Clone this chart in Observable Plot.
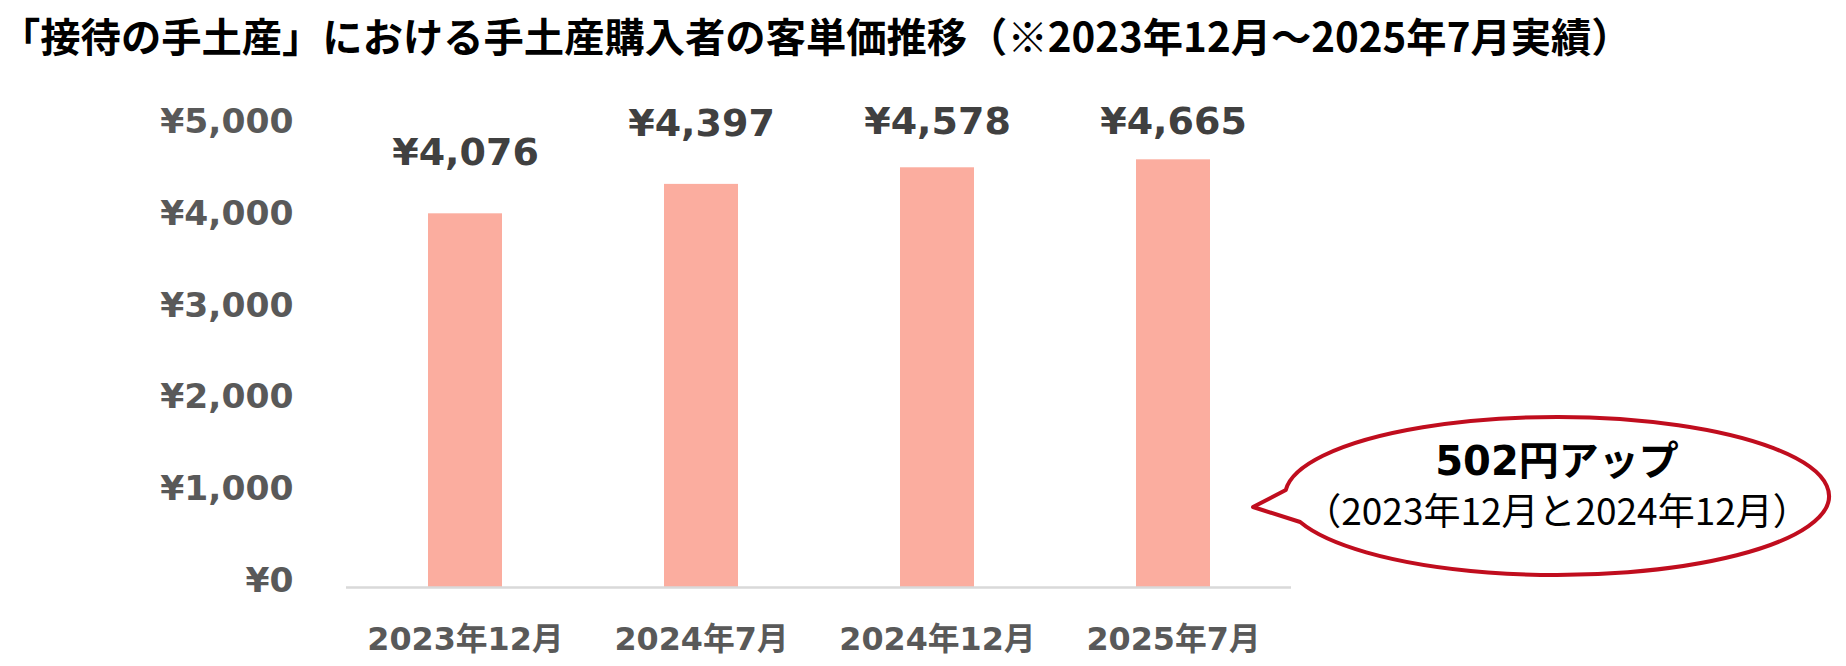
<!DOCTYPE html>
<html>
<head>
<meta charset="utf-8">
<script src="https://cdn.jsdelivr.net/npm/d3@7"></script>
<script src="https://cdn.jsdelivr.net/npm/@observablehq/plot@0.6"></script>
<style>
  html, body { margin: 0; padding: 0; background: #ffffff; }
  #title {
    height: 70px; line-height: 70px; margin: 0; padding: 0;
    font-family: "Noto Sans CJK JP", sans-serif; font-weight: bold;
    font-size: 40.3px; color: #000; white-space: nowrap;
  }
  #chart svg { display: block; }
</style>
</head>
<body>
<div id="title"></div>
<div id="chart"></div>
<script>
const titleText = "「接待の手土産」における手土産購入者の客単価推移（※2023年12月～2025年7月実績）";
const categories = ["2023年12月", "2024年7月", "2024年12月", "2025年7月"];
const values = [4076, 4397, 4578, 4665];
const yTicks = [0, 1000, 2000, 3000, 4000, 5000];
const calloutLines = ["502円アップ", "（2023年12月と2024年12月）"];

document.getElementById("title").textContent = titleText;

const data = categories.map((c, i) => ({category: c, value: values[i]}));
const yen = d => "¥" + d3.format(",")(d);

const chart = Plot.plot({
  width: 1846,
  height: 596,
  marginLeft: 346,
  marginRight: 555,
  marginTop: 58.6,
  marginBottom: 79,
  x: {domain: categories, paddingInner: 0.687, paddingOuter: 0.3435, label: null},
  y: {domain: [0, 5000], label: null},
  style: {fontFamily: "'DejaVu Sans','Noto Sans CJK JP',sans-serif", background: "transparent"},
  marks: [
    Plot.barY(data, {x: "category", y: "value", fill: "#fbad9f"}),
    Plot.ruleY([0], {stroke: "#d9d9d9", strokeWidth: 2.5}),
    Plot.axisY({ticks: yTicks, tickFormat: yen, tickSize: 0, tickPadding: 53, fontSize: 34.5,
      fontWeight: "bold", color: "#595959", dy: -7, label: null}),
    Plot.axisX({tickSize: 0, tickPadding: 40, fontSize: 31.8, fontWeight: "bold",
      color: "#595959", label: null}),
    Plot.text(data, {x: "category", y: d => Math.min(d.value, 4410), text: d => yen(d.value),
      dy: -61, fontSize: 38, fontWeight: "bold", fill: "#404040", lineAnchor: "middle"})
  ]
});
document.getElementById("chart").appendChild(chart);

// Callout bubble (annotation)
const svg = d3.select(chart);
const cx = 1557, cy = 426, rx = 272, ry = 79;
const y1 = cy - 6, y2 = cy + 26;
const x1 = cx - rx * Math.sqrt(1 - ((y1 - cy) / ry) ** 2);
const x2 = cx - rx * Math.sqrt(1 - ((y2 - cy) / ry) ** 2);
const tip = [1253, 437];
svg.append("path")
  .attr("d", `M${x1},${y1} A${rx},${ry} 0 1 1 ${x2},${y2} L${tip[0]},${tip[1]} Z`)
  .attr("fill", "#ffffff")
  .attr("stroke", "#c00d1e")
  .attr("stroke-width", 4)
  .attr("stroke-linejoin", "round");
svg.append("text")
  .attr("x", cx).attr("y", 404.6)
  .attr("text-anchor", "middle")
  .attr("font-family", "'DejaVu Sans','Noto Sans CJK JP',sans-serif")
  .attr("font-weight", "bold").attr("font-size", 40).attr("fill", "#000")
  .text(calloutLines[0]);
svg.append("text")
  .attr("x", cx).attr("y", 455)
  .attr("text-anchor", "middle")
  .attr("font-family", "'Noto Sans CJK JP',sans-serif")
  .attr("font-weight", "normal").attr("font-size", 37).attr("fill", "#000")
  .text(calloutLines[1]);
</script>
</body>
</html>
